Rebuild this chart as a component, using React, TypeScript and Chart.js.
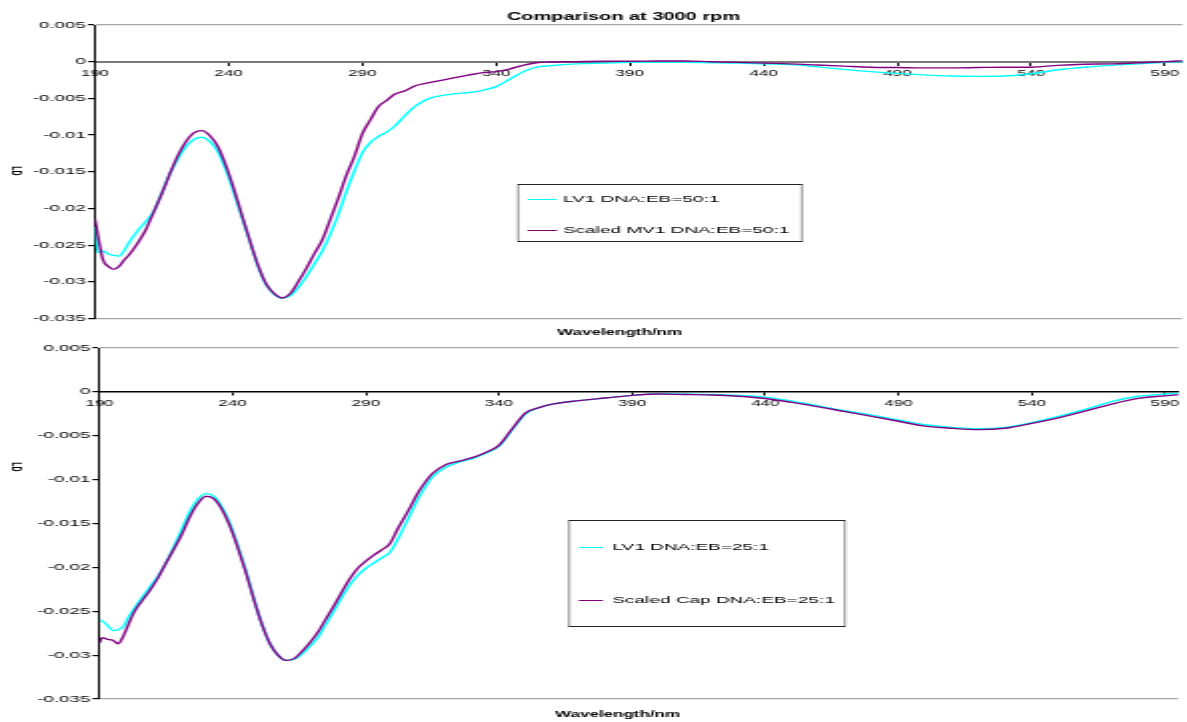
import React, { useEffect, useRef } from "react";
import { Chart, registerables } from "chart.js";

Chart.register(...registerables);

// ---------- DATA ----------
const WAVELENGTHS = [
  190, 191, 193, 195, 197, 199, 201, 203, 206, 209, 212, 215, 218, 221, 224, 227, 230, 233, 236, 239,
  242, 245, 248, 251, 254, 257, 260, 263, 266, 269, 272, 275, 278, 281, 284, 287, 290, 293, 296, 299,
  302, 306, 310, 315, 320, 325, 330, 335, 340, 345, 350, 355, 360, 370, 380, 390, 400, 410, 420, 430,
  440, 450, 460, 470, 480, 490, 500, 510, 520, 530, 540, 550, 560, 570, 580, 590, 597,
];

const TOP_LV1 = [
  -0.0225, -0.026, -0.0258, -0.0262, -0.0264, -0.0265, -0.0257, -0.0245, -0.023, -0.0218, -0.0204, -0.0179, -0.0153, -0.0133, -0.0116, -0.0106, -0.0103, -0.0109, -0.0123, -0.0148,
  -0.0179, -0.0213, -0.0246, -0.0279, -0.0304, -0.0317, -0.0322, -0.0319, -0.0308, -0.0293, -0.0276, -0.0258, -0.0235, -0.0208, -0.0177, -0.0149, -0.0124, -0.011, -0.0102, -0.0096,
  -0.0088, -0.0073, -0.006, -0.005, -0.0046, -0.00435, -0.0042, -0.0039, -0.0034, -0.0024, -0.0014, -0.00075, -0.00055, -0.0003, -0.0002, -0.0001, -0.0001, -0.0001, -0.00015, -0.0002,
  -0.0003, -0.0004, -0.0007, -0.00105, -0.00135, -0.0016, -0.0018, -0.00195, -0.002, -0.00195, -0.00165, -0.0011, -0.00075, -0.0005, -0.0003, -0.0001, 0.0,
];

const TOP_MV1 = [
  -0.0215, -0.0235, -0.027, -0.0279, -0.0283, -0.0279, -0.027, -0.0262, -0.0247, -0.0229, -0.0205, -0.018, -0.0153, -0.0128, -0.0109, -0.0097, -0.0094, -0.0101, -0.0116, -0.0142,
  -0.0174, -0.021, -0.0245, -0.0278, -0.0303, -0.0316, -0.0322, -0.0316, -0.03, -0.0282, -0.0262, -0.0243, -0.0215, -0.0186, -0.0155, -0.0129, -0.0098, -0.0079, -0.0061, -0.0053,
  -0.00445, -0.00395, -0.00325, -0.00285, -0.0025, -0.00215, -0.0018, -0.0015, -0.00135, -0.001, -0.0005, -0.00015, -0.00005, 0.0, 0.00005, 0.00005, 0.0001, 0.0001, 0.0, -0.0001,
  -0.0002, -0.0003, -0.00045, -0.0006, -0.00075, -0.0008, -0.00085, -0.00085, -0.0008, -0.00075, -0.00075, -0.0005, -0.00035, -0.0003, -0.00015, 0.0, 0.00015,
];

const BOTTOM_LV1 = [
  -0.026, -0.0261, -0.0266, -0.0272, -0.0271, -0.0267, -0.0256, -0.0247, -0.0234, -0.0222, -0.021, -0.0195, -0.0176, -0.0156, -0.0136, -0.0122, -0.0116, -0.0119, -0.0131, -0.015,
  -0.0176, -0.0204, -0.0236, -0.0265, -0.0287, -0.03, -0.0306, -0.0305, -0.0299, -0.029, -0.028, -0.0265, -0.025, -0.0234, -0.022, -0.0209, -0.0201, -0.0195, -0.0189, -0.0183,
  -0.0168, -0.0144, -0.012, -0.0097, -0.0086, -0.008, -0.0076, -0.007, -0.0062, -0.0043, -0.0025, -0.0018, -0.0014, -0.001, -0.0007, -0.0004, -0.0002, -0.00025, -0.0003, -0.0004,
  -0.0006, -0.00105, -0.0016, -0.00215, -0.00265, -0.0032, -0.00375, -0.00405, -0.0042, -0.00405, -0.0035, -0.0028, -0.002, -0.0011, -0.0005, -0.00025, -0.00015,
];

const BOTTOM_CAP = [
  -0.0286, -0.028, -0.0282, -0.0283, -0.0287, -0.0278, -0.0264, -0.0251, -0.0238, -0.0226, -0.0212, -0.0195, -0.0179, -0.0162, -0.0142, -0.0127, -0.0119, -0.0122, -0.0134, -0.0153,
  -0.0178, -0.0206, -0.0237, -0.0265, -0.0287, -0.03, -0.0306, -0.0304, -0.0296, -0.0286, -0.0274, -0.0259, -0.0244, -0.0228, -0.0213, -0.0201, -0.0193, -0.0186, -0.018, -0.0173,
  -0.0156, -0.0135, -0.0113, -0.0093, -0.0083, -0.0079, -0.0075, -0.0069, -0.0061, -0.0042, -0.0024, -0.0018, -0.0014, -0.001, -0.0007, -0.0004, -0.00025, -0.0003, -0.00035, -0.0005,
  -0.00075, -0.0012, -0.0017, -0.00225, -0.0028, -0.00335, -0.0039, -0.00415, -0.0043, -0.00415, -0.0036, -0.00295, -0.0022, -0.0014, -0.00075, -0.00045, -0.0003,
];

const X_TICKS = [190, 240, 290, 340, 390, 440, 490, 540, 590];
const Y_TICKS = [-0.035, -0.03, -0.025, -0.02, -0.015, -0.01, -0.005, 0, 0.005];

const TITLE = "Comparison at 3000 rpm";
const X_TITLE = "Wavelength/nm";
const Y_TITLE = "LD";
const TOP_LABELS = ["LV1 DNA:EB=50:1", "Scaled MV1 DNA:EB=50:1"];
const BOTTOM_LABELS = ["LV1 DNA:EB=25:1", "Scaled Cap DNA:EB=25:1"];

const CYAN = "#00FFFF";
const PURPLE = "#800080";

// ---------- LAYOUT (canvas drawn at half width, stretched 2x like the original) ----------
const LOGICAL_W = 594;
const PAGE_W = 1187;
const FONT = '"Liberation Sans", Arial, sans-serif';

type Panel = {
  top: number;
  height: number;
  yAxisWidth: number;
  padTop: number;
  padBottom: number;
  xMax: number;
  zeroColor: string;
  zeroWidth: number;
  title?: string;
  titleX: number;
  titleY: number;
  xTitleX: number;
  xTitleY: number;
  yTitleX: number;
  yTitleY: number;
  legend: { x1: number; y1: number; x2: number; y2: number; rows: number[]; sx1: number; sx2: number; tx: number };
};

const TOP_PANEL: Panel = {
  top: 0,
  height: 340,
  yAxisWidth: 47.5,
  padTop: 25,
  padBottom: 21.5,
  xMax: 596.5,
  zeroColor: "#7a7a7a",
  zeroWidth: 2,
  title: TITLE,
  titleX: 312,
  titleY: 17,
  xTitleX: 310,
  xTitleY: 333,
  yTitleX: 7.75,
  yTitleY: 171,
  legend: { x1: 259, y1: 184, x2: 401.5, y2: 241, rows: [199, 230], sx1: 264, sx2: 278.7, tx: 281.7 },
};

const BOTTOM_PANEL: Panel = {
  top: 340,
  height: 382,
  yAxisWidth: 49.75,
  padTop: 8,
  padBottom: 23,
  xMax: 595,
  zeroColor: "#000000",
  zeroWidth: 1.5,
  titleX: 310,
  titleY: 0,
  xTitleX: 309,
  xTitleY: 375,
  yTitleX: 7.75,
  yTitleY: 127,
  legend: { x1: 284.5, y1: 180, x2: 423, y2: 286, rows: [207, 260], sx1: 289.5, sx2: 301.7, tx: 306.5 },
};

function buildChart(canvas: HTMLCanvasElement, p: Panel, a: number[], b: number[], labels: string[]) {
  const textPlugin = {
    id: "panelText",
    afterDraw(chart: any) {
      const ctx = chart.ctx as CanvasRenderingContext2D;
      ctx.save();
      ctx.fillStyle = "#000";
      ctx.textAlign = "center";
      ctx.textBaseline = "middle";
      if (p.title) {
        ctx.font = `bold 10px ${FONT}`;
        ctx.fillText(p.title, p.titleX, p.titleY);
      }
      ctx.font = `bold 8.5px ${FONT}`;
      ctx.fillText(X_TITLE, p.xTitleX, p.xTitleY);
      ctx.save();
      ctx.translate(p.yTitleX, p.yTitleY);
      ctx.rotate(Math.PI / 2);
      ctx.font = `bold 7px ${FONT}`;
      ctx.fillText(Y_TITLE, 0, 0);
      ctx.restore();

      // legend box
      const L = p.legend;
      ctx.fillStyle = "#fff";
      ctx.fillRect(L.x1, L.y1, L.x2 - L.x1, L.y2 - L.y1);
      ctx.strokeStyle = "#222";
      // horizontal edges
      ctx.lineWidth = 1;
      ctx.beginPath();
      ctx.moveTo(L.x1, L.y1 + 0.5);
      ctx.lineTo(L.x2, L.y1 + 0.5);
      ctx.moveTo(L.x1, L.y2 + 0.5);
      ctx.lineTo(L.x2, L.y2 + 0.5);
      ctx.stroke();
      // vertical edges (thin, since the canvas is stretched horizontally)
      ctx.lineWidth = 0.5;
      ctx.beginPath();
      ctx.moveTo(L.x1 + 0.25, L.y1);
      ctx.lineTo(L.x1 + 0.25, L.y2 + 1);
      ctx.moveTo(L.x2 - 0.25, L.y1);
      ctx.lineTo(L.x2 - 0.25, L.y2 + 1);
      ctx.stroke();

      chart.data.datasets.forEach((ds: any, i: number) => {
        const y = L.rows[i];
        ctx.strokeStyle = ds.borderColor;
        ctx.lineWidth = 1;
        ctx.beginPath();
        ctx.moveTo(L.sx1, y + 0.5);
        ctx.lineTo(L.sx2, y + 0.5);
        ctx.stroke();
        ctx.fillStyle = "#000";
        ctx.textAlign = "left";
        ctx.font = `9.5px ${FONT}`;
        ctx.fillText(ds.label, L.tx, y + 0.5);
      });
      ctx.restore();
    },
  };

  const isBorderTick = (v: number) => Math.abs(v - 0.005) < 1e-9 || Math.abs(v + 0.035) < 1e-9;

  return new Chart(canvas, {
    type: "line",
    data: {
      datasets: [
        {
          label: labels[0],
          data: WAVELENGTHS.map((w, i) => ({ x: w, y: a[i] })),
          borderColor: CYAN,
          backgroundColor: CYAN,
          borderWidth: 1.4,
          pointRadius: 0,
          cubicInterpolationMode: "monotone",
          order: 1,
        },
        {
          label: labels[1],
          data: WAVELENGTHS.map((w, i) => ({ x: w, y: b[i] })),
          borderColor: PURPLE,
          backgroundColor: PURPLE,
          borderWidth: 1.4,
          pointRadius: 0,
          cubicInterpolationMode: "monotone",
          order: 0,
        },
      ],
    },
    options: {
      responsive: false,
      animation: false,
      devicePixelRatio: 1,
      events: [],
      layout: { padding: { top: p.padTop, bottom: p.padBottom, left: 0, right: 0 } },
      plugins: {
        legend: { display: false },
        title: { display: false },
        tooltip: { enabled: false },
      },
      scales: {
        x: {
          type: "linear",
          position: { y: 0 } as any,
          min: 190,
          max: p.xMax,
          afterBuildTicks: (s: any) => {
            s.ticks = X_TICKS.map((v) => ({ value: v }));
          },
          grid: { drawOnChartArea: false, drawTicks: true, tickLength: 3, tickColor: "#000", color: "#000" },
          border: { display: true, color: p.zeroColor, width: p.zeroWidth },
          ticks: {
            color: "#000",
            font: { family: FONT, size: 8.5 },
            padding: 4,
            maxRotation: 0,
            autoSkip: false,
            callback: (v: any) => String(v),
          },
        },
        y: {
          type: "linear",
          min: -0.035,
          max: 0.005,
          afterBuildTicks: (s: any) => {
            s.ticks = Y_TICKS.map((v) => ({ value: v }));
          },
          afterFit: (s: any) => {
            s.width = p.yAxisWidth;
          },
          grid: {
            color: (c: any) => (c.tick && isBorderTick(c.tick.value) ? "#a6a6a6" : "rgba(0,0,0,0)"),
            lineWidth: 1.2,
            tickColor: "#000",
            tickLength: 3.5,
          },
          border: { display: true, color: "#000", width: 1 },
          ticks: {
            color: "#000",
            font: { family: FONT, size: 9.4 },
            padding: 1,
            autoSkip: false,
            callback: (v: any) => String(Math.round(Number(v) * 1000) / 1000),
          },
        },
      },
    },
    plugins: [textPlugin],
  } as any);
}

function PanelCanvas({ panel, a, b, labels }: { panel: Panel; a: number[]; b: number[]; labels: string[] }) {
  const ref = useRef<HTMLCanvasElement | null>(null);
  useEffect(() => {
    if (!ref.current) return;
    const chart = buildChart(ref.current, panel, a, b, labels);
    return () => chart.destroy();
  }, []);
  return (
    <canvas
      ref={ref}
      width={LOGICAL_W}
      height={panel.height}
      style={{
        position: "absolute",
        left: 0,
        top: panel.top,
        width: `${PAGE_W}px`,
        height: `${panel.height}px`,
      }}
    />
  );
}

export default function App() {
  return (
    <div
      style={{
        position: "fixed",
        left: 0,
        top: 0,
        width: PAGE_W,
        height: 722,
        background: "#fff",
        overflow: "hidden",
      }}
    >
      <PanelCanvas panel={TOP_PANEL} a={TOP_LV1} b={TOP_MV1} labels={TOP_LABELS} />
      <PanelCanvas panel={BOTTOM_PANEL} a={BOTTOM_LV1} b={BOTTOM_CAP} labels={BOTTOM_LABELS} />
    </div>
  );
}
